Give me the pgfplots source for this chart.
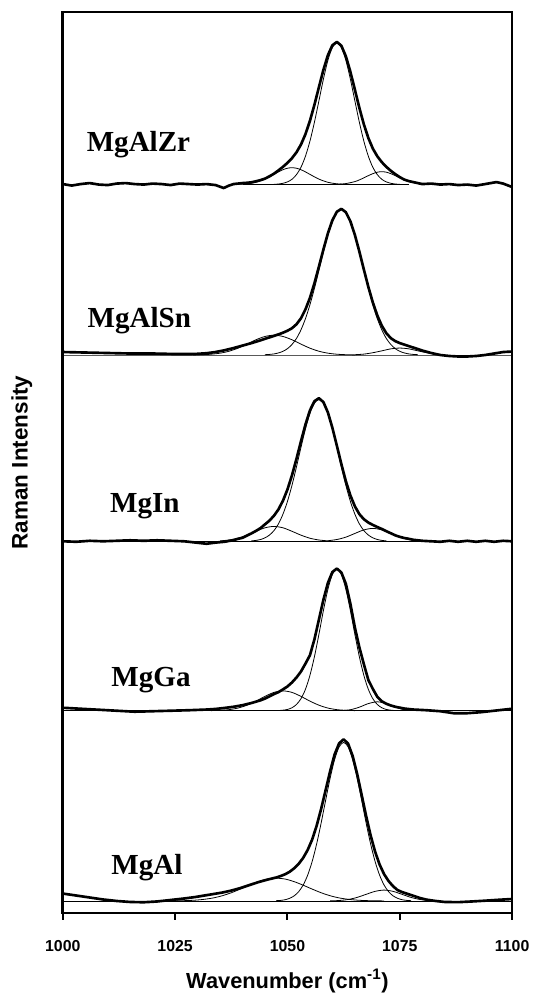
\documentclass[border=0pt]{standalone}
\usepackage{fontspec}
\setmainfont{Liberation Serif}
\setsansfont{Liberation Sans}
\usepackage{pgfplots}
\pgfplotsset{compat=1.18}

\pgfplotsset{
  spec/.style={black, line width=2pt, line join=round},
  comp/.style={black, line width=0.6pt, smooth},
}
\tikzset{lab/.style={anchor=base west, font=\rmfamily\bfseries\fontsize{22}{26}\selectfont}}

\begin{document}
\begin{tikzpicture}
\begin{axis}[
    name=ax,
    scale only axis,
    width=340pt, height=681.5pt,
    xmin=1000, xmax=1100, ymin=0, ymax=909,
    xtick={1000,1025,1050,1075,1100},
    xtick pos=left, xtick align=outside,
    major tick length=5.25pt,
    xtick style={black, line width=1.5pt},
    ytick=\empty,
    minor ytick={182,364,546,728},
    minor tick length=2.5pt,
    minor y tick style={draw=gray!70, line width=0.6pt},
    ytick pos=both, ytick align=inside,
    axis line style={line width=2pt},
    /pgf/number format/assume math mode=true,
    /pgf/number format/1000 sep={},
    xticklabel style={font=\sffamily\bfseries\fontsize{12}{14}\selectfont, yshift=-12pt},
    xlabel={Wavenumber (cm\textsuperscript{-1})},
    xlabel style={font=\sffamily\bfseries\fontsize{16.5}{19}\selectfont,
                  at={(axis description cs:0.5,0)}, anchor=center, yshift=-51.5pt},
    ylabel={Raman Intensity},
    ylabel style={font=\sffamily\bfseries\fontsize{17}{20}\selectfont,
                  at={(axis description cs:-0.091,0.5)}, anchor=center},
  ]

% ---------------- MgAlZr (baseline 735) ----------------
\addplot[spec] table[row sep=\\, y expr=\thisrow{y}+735] {
x y\\ 1000 0.5\\ 1002 -1\\ 1004 0.5\\ 1006 1.5\\ 1008 0\\ 1010 -0.5\\ 1012 1\\ 1014 1.5\\
1016 0.5\\ 1018 0\\ 1020 1\\ 1022 0.5\\ 1024 -0.5\\ 1026 1\\ 1028 0.5\\ 1030 0\\ 1032 0.5\\
1034 -0.5\\ 1035.8 -3.5\\ 1037 -1\\ 1038 0.5\\ 1039 1\\ 1040 1.5\\ 1041 1.8\\ 1042 2.3\\
1043 3.3\\ 1044 4.5\\ 1045 6.0\\ 1046 8.3\\ 1047 11.0\\ 1048 14.3\\ 1049 17.9\\ 1050 21.9\\
1051 26.6\\ 1052 32.5\\ 1053 40.3\\ 1054 50.8\\ 1055 64.3\\ 1056 80.5\\ 1057 98.3\\ 1058 115.8\\
1059 130.6\\ 1060 140.6\\ 1061 144\\ 1062 140.1\\ 1063 129.4\\ 1064 113.9\\ 1065 95.8\\
1066 77.4\\ 1067 60.8\\ 1068 47.0\\ 1069 36.3\\ 1070 28.5\\ 1071 22.6\\ 1072 17.9\\ 1073 13.9\\
1074 10.5\\ 1075 7.5\\ 1076 5.0\\ 1077 3.5\\ 1078 2.5\\ 1079 1.5\\ 1080 0.5\\ 1082 1\\ 1084 0\\
1086 0.5\\ 1088 -0.5\\ 1090 0\\ 1092 -1\\ 1094 0.5\\ 1096.5 2.5\\ 1098 1\\ 1100 -2.5\\
};
\addplot[comp] table[row sep=\\, y expr=\thisrow{y}+735] {
x y\\ 1047 0.2\\ 1048 0.55\\ 1049 1.3\\ 1050 2.7\\ 1051 5.3\\ 1052 10.0\\ 1053 17.4\\ 1054 28.6\\
1055 43.8\\ 1056 62.9\\ 1057 84.5\\ 1058 106.4\\ 1059 125.4\\ 1060 138.4\\ 1061 143\\ 1062 138.4\\
1063 125.4\\ 1064 106.4\\ 1065 84.5\\ 1066 62.9\\ 1067 43.8\\ 1068 28.6\\ 1069 17.4\\ 1070 10.0\\
1071 5.3\\ 1072 2.7\\ 1073 1.3\\ 1074 0.55\\ 1075 0.2\\
};
\addplot[comp] table[row sep=\\, y expr=\thisrow{y}+735] {
x y\\ 1039 0.2\\ 1041 0.75\\ 1043 2.3\\ 1045 5.5\\ 1047 10.3\\ 1048 12.8\\ 1049 15.0\\ 1050 16.5\\
1051 17\\ 1052 16.5\\ 1053 15.0\\ 1054 12.8\\ 1055 10.3\\ 1057 5.5\\ 1059 2.3\\ 1061 0.75\\ 1063 0.2\\
};
\addplot[comp] table[row sep=\\, y expr=\thisrow{y}+735] {
x y\\ 1061 0.2\\ 1063 1.0\\ 1065 3.0\\ 1066 4.7\\ 1067 6.8\\ 1068 9.0\\ 1069 11.0\\ 1070 12.5\\
1071 13\\ 1072 12.5\\ 1073 11.0\\ 1074 9.0\\ 1075 6.8\\ 1076 4.7\\ 1077 3.0\\ 1079 1.0\\ 1081 0.2\\
};
\addplot[comp] coordinates {(1040,735) (1077,735)};

% ---------------- MgAlSn (baseline 563) ----------------
\addplot[spec] table[row sep=\\, y expr=\thisrow{y}+563] {
x y\\ 1000 3\\ 1005 2.5\\ 1010 2\\ 1015 1.5\\ 1020 1.5\\ 1025 1\\ 1028 1\\ 1030 1.2\\ 1032 1.8\\
1034 3\\ 1036 4.8\\ 1038 7\\ 1040 9.5\\ 1042 12\\ 1044 14.8\\ 1046 17.8\\ 1048 20.8\\
1049 22.5\\ 1050 24.5\\ 1051 27\\ 1052 31\\ 1053 37\\ 1054 46\\
1055 57.6\\ 1056 72.4\\ 1057 89.2\\ 1058 106.5\\ 1059 122.8\\ 1060 136.0\\ 1061 144.6\\
1062 147.5\\ 1063 144.1\\ 1064 135.0\\ 1065 121.2\\ 1066 104.4\\ 1067 86.3\\ 1068 68.7\\
1069 53.0\\ 1070 39.8\\ 1071 29.5\\ 1072 22.0\\ 1073 17.0\\ 1074 14.0\\ 1075 12.0\\ 1076 10.5\\
1077 9\\ 1078 7.5\\ 1080 4.5\\ 1082 2\\ 1084 0\\ 1086 -1\\ 1088 -1.5\\ 1090 -1.5\\ 1092 -1\\
1094 0\\ 1096 1.5\\ 1098 3\\ 1100 3.5\\
};
\addplot[comp] table[row sep=\\, y expr=\thisrow{y}+563] {
x y\\ 1045 0.3\\ 1046 0.6\\ 1047 1.1\\ 1048 2.1\\ 1049 3.7\\ 1050 6.4\\ 1051 10.6\\ 1052 16.7\\
1053 25.3\\ 1054 36.6\\ 1055 50.7\\ 1056 67.2\\ 1057 85.4\\ 1058 103.8\\ 1059 120.9\\ 1060 134.8\\
1061 143.8\\ 1062 147\\ 1063 143.8\\ 1064 134.8\\ 1065 120.9\\ 1066 103.8\\ 1067 85.4\\ 1068 67.2\\
1069 50.7\\ 1070 36.6\\ 1071 25.3\\ 1072 16.7\\ 1073 10.6\\ 1074 6.4\\ 1075 3.7\\ 1076 2.1\\
1077 1.1\\ 1078 0.6\\ 1079 0.3\\
};
\addplot[comp] table[row sep=\\, y expr=\thisrow{y}+563] {
x y\\ 1029 0.1\\ 1031 0.3\\ 1033 0.8\\ 1035 1.85\\ 1037 3.8\\ 1039 6.9\\ 1041 11.0\\ 1043 15.4\\
1045 18.7\\ 1047 20\\ 1049 18.7\\ 1051 15.4\\ 1053 11.0\\ 1055 6.9\\ 1057 3.8\\ 1059 1.85\\
1061 0.8\\ 1063 0.3\\ 1065 0.1\\
};
\addplot[comp] table[row sep=\\, y expr=\thisrow{y}+563] {
x y\\ 1065 0.3\\ 1067 0.9\\ 1069 2.3\\ 1071 4.2\\ 1073 6.2\\ 1075 7\\ 1077 6.2\\ 1079 4.2\\
1081 2.3\\ 1083 0.9\\ 1085 0.3\\
};
\addplot[comp] coordinates {(1000,563) (1100,563)};

% ---------------- MgIn (baseline 375) ----------------
\addplot[spec] table[row sep=\\, y expr=\thisrow{y}+375] {
x y\\ 1000 0\\ 1003 -0.5\\ 1006 0.5\\ 1009 0\\ 1012 0.5\\ 1015 1\\ 1018 0.5\\ 1021 1\\ 1024 0.5\\
1027 0\\ 1030 -1.5\\ 1032 -2.5\\ 1034 -1.3\\ 1036 -0.5\\ 1038 1.2\\ 1039 2.5\\ 1040 3.5\\
1041 5.8\\ 1042 8.0\\ 1043 10.5\\ 1044 13.3\\ 1045 17.1\\ 1046 20.9\\ 1047 25.8\\ 1048 32.2\\
1049 41.0\\ 1050 52.3\\ 1051 66.5\\ 1052 83.1\\ 1053 100.8\\ 1054 117.8\\ 1055 132.1\\
1056 141.4\\ 1057 144.4\\ 1058 140.5\\ 1059 130.0\\ 1060 114.5\\ 1061 96.4\\ 1062 77.8\\
1063 60.6\\ 1064 46.3\\ 1065 35.3\\ 1066 27.4\\ 1067 22.3\\ 1068 18.9\\ 1069 16.5\\ 1070 14.4\\
1071 12.4\\ 1072 10.2\\ 1073 8.1\\ 1074 6.0\\ 1075 4.5\\ 1076 3.3\\ 1077 2.5\\ 1078 1.5\\
1080 0.5\\ 1082 0\\ 1084 -0.5\\ 1086 0.5\\ 1088 -0.5\\ 1090 0.5\\ 1092 -0.5\\ 1094 0.5\\
1096 -0.5\\ 1098 0.5\\ 1100 0\\
};
\addplot[comp] table[row sep=\\, y expr=\thisrow{y}+375] {
x y\\ 1042 0.4\\ 1043 0.9\\ 1044 1.8\\ 1045 3.5\\ 1046 6.3\\ 1047 10.8\\ 1048 17.6\\ 1049 27.4\\
1050 40.3\\ 1051 56.4\\ 1052 75.0\\ 1053 94.6\\ 1054 113.3\\ 1055 129.0\\ 1056 139.4\\ 1057 143\\
1058 139.4\\ 1059 129.0\\ 1060 113.3\\ 1061 94.6\\ 1062 75.0\\ 1063 56.4\\ 1064 40.3\\ 1065 27.4\\
1066 17.6\\ 1067 10.8\\ 1068 6.3\\ 1069 3.5\\ 1070 1.8\\ 1071 0.9\\ 1072 0.4\\
};
\addplot[comp] table[row sep=\\, y expr=\thisrow{y}+375] {
x y\\ 1035 0.43\\ 1037 1.3\\ 1039 3.1\\ 1041 6.2\\ 1043 10.1\\ 1045 13.6\\ 1047 15\\ 1049 13.6\\
1051 10.1\\ 1053 6.2\\ 1055 3.1\\ 1057 1.3\\ 1059 0.43\\
};
\addplot[comp] table[row sep=\\, y expr=\thisrow{y}+375] {
x y\\ 1059 0.57\\ 1061 1.8\\ 1063 4.2\\ 1065 7.9\\ 1067 11.5\\ 1069 13\\ 1071 11.5\\ 1073 7.9\\
1075 4.2\\ 1077 1.8\\ 1079 0.57\\
};
\addplot[comp] coordinates {(1000,375) (1100,375)};

% ---------------- MgGa (baseline 204) ----------------
\addplot[spec] table[row sep=\\, y expr=\thisrow{y}+204] {
x y\\ 1000 3\\ 1004 2\\ 1008 1\\ 1012 0\\ 1016 -1\\ 1020 -0.5\\ 1024 0\\ 1028 0.5\\ 1032 1.2\\
1034 1.8\\ 1036 2.8\\ 1038 4\\ 1040 5.6\\ 1042 7.8\\ 1044 10.5\\ 1045 12.3\\ 1046 14.5\\
1047 16.8\\ 1048 18.8\\ 1049 21.5\\ 1050 24.5\\ 1051 28.5\\ 1052 33.5\\ 1053 39.5\\ 1054 47.5\\
1055 56\\ 1056 72\\ 1057 92\\ 1058 112\\ 1059 129\\ 1060 140\\ 1061 143.5\\
1062 139.5\\ 1063 128\\ 1064 108\\ 1065 84\\ 1066 64\\ 1067 47\\ 1068 31\\
1069 22\\ 1070 14\\ 1071 9.5\\ 1072 7\\ 1073 5.3\\ 1074 4\\ 1076 2.2\\ 1078 1.2\\
1081 0.5\\ 1084 -0.5\\ 1087 -2.5\\ 1090 -2.5\\ 1093 -1.5\\ 1096 0\\ 1100 2\\
};
\addplot[comp] table[row sep=\\, y expr=\thisrow{y}+204] {
x y\\ 1048 0.2\\ 1049 0.55\\ 1050 1.3\\ 1051 3.0\\ 1052 6.3\\ 1053 12.1\\ 1054 21.6\\
1055 35.7\\ 1056 54.5\\ 1057 77.1\\ 1058 101.1\\ 1059 122.5\\ 1060 137.6\\ 1061 143\\ 1062 137.6\\
1063 122.5\\ 1064 101.1\\ 1065 77.1\\ 1066 54.5\\ 1067 35.7\\ 1068 21.6\\ 1069 12.1\\ 1070 6.3\\
1071 3.0\\ 1072 1.3\\ 1073 0.55\\ 1074 0.2\\
};
\addplot[comp] table[row sep=\\, y expr=\thisrow{y}+204] {
x y\\ 1033 0.1\\ 1035 0.4\\ 1037 1.1\\ 1039 2.7\\ 1041 5.6\\ 1043 9.7\\ 1045 14.5\\ 1047 18.5\\
1049 20\\ 1051 18.5\\ 1053 14.5\\ 1055 9.7\\ 1057 5.6\\ 1059 2.7\\ 1061 1.1\\ 1063 0.4\\ 1065 0.1\\
};
\addplot[comp] table[row sep=\\, y expr=\thisrow{y}+204] {
x y\\ 1062 0.15\\ 1064 1.0\\ 1066 3.6\\ 1068 7.2\\ 1070 9\\ 1072 7.2\\ 1074 3.6\\
1076 1.0\\ 1078 0.15\\
};
\addplot[comp] coordinates {(1000,204) (1100,204)};

% ---------------- MgAl (baseline 12) ----------------
\addplot[spec] table[row sep=\\, y expr=\thisrow{y}+12] {
x y\\ 1000 7.5\\ 1003 5.5\\ 1006 3.5\\ 1009 1.5\\ 1012 0\\ 1015 -1\\ 1018 -1.3\\ 1021 -0.5\\
1024 1\\ 1027 2.5\\ 1029.5 4\\ 1031.5 5.5\\ 1033.5 7\\ 1035.5 8.5\\ 1037.5 10.5\\ 1039.5 13\\
1041.5 16\\ 1043.5 19\\ 1045.5 21.5\\ 1047.5 23.7\\ 1048.5 25.2\\ 1049.5 27\\ 1050.5 29.5\\
1051.5 33\\ 1052.5 37.5\\ 1053.5 43.5\\ 1054.5 51.5\\ 1055.5 62\\ 1056.5 76\\ 1057.5 93\\
1058.5 112\\ 1059.5 131\\ 1060.5 148\\ 1061.5 159.1\\
1062.5 163.2\\ 1063.5 158.7\\ 1064.5 146.4\\ 1065.5 128.4\\ 1066.5 107.3\\ 1067.5 85.9\\
1068.5 66.3\\ 1069.5 49.8\\ 1070.5 36.8\\ 1071.5 27.1\\ 1072.5 20.1\\ 1073.5 14.9\\ 1074.5 11.0\\
1075.5 9.0\\ 1076.5 7.5\\ 1077.5 6\\ 1078.5 4.5\\ 1079.5 3\\ 1081 1.3\\ 1083 0\\ 1085 -1\\
1088 -1.2\\ 1091 -0.5\\ 1094 0.3\\ 1097 1.2\\ 1100 2\\
};
\addplot[comp] table[row sep=\\, y expr=\thisrow{y}+12] {
x y\\ 1047.5 0.3\\ 1048.5 0.6\\ 1049.5 1.3\\ 1050.5 2.7\\ 1051.5 5.2\\ 1052.5 9.4\\ 1053.5 16.1\\
1054.5 26.1\\ 1055.5 39.9\\ 1056.5 57.7\\ 1057.5 78.8\\ 1058.5 101.7\\ 1059.5 124.0\\ 1060.5 142.8\\
1061.5 155.5\\ 1062.5 160\\ 1063.5 155.5\\ 1064.5 142.8\\ 1065.5 124.0\\ 1066.5 101.7\\
1067.5 78.8\\ 1068.5 57.7\\ 1069.5 39.9\\ 1070.5 26.1\\ 1071.5 16.1\\ 1072.5 9.4\\ 1073.5 5.2\\
1074.5 2.7\\ 1075.5 1.3\\ 1076.5 0.6\\ 1077.5 0.3\\
};
\addplot[comp] table[row sep=\\, y expr=\thisrow{y}+12] {
x y\\ 1023.5 0.06\\ 1025.5 0.17\\ 1027.5 0.39\\ 1029.5 0.84\\ 1031.5 1.7\\ 1033.5 3.1\\ 1035.5 5.3\\
1037.5 8.3\\ 1039.5 12.0\\ 1041.5 15.9\\ 1043.5 19.5\\ 1045.5 22.1\\ 1047.5 23\\ 1049.5 22.1\\
1051.5 19.5\\ 1053.5 15.9\\ 1055.5 12.0\\ 1057.5 8.3\\ 1059.5 5.3\\ 1061.5 3.1\\ 1063.5 1.7\\
1065.5 0.84\\ 1067.5 0.39\\ 1069.5 0.17\\ 1071.5 0.06\\
};
\addplot[comp] table[row sep=\\, y expr=\thisrow{y}+12] {
x y\\ 1059.5 0.12\\ 1061.5 0.48\\ 1063.5 1.5\\ 1065.5 3.6\\ 1067.5 6.7\\ 1069.5 9.7\\ 1071.5 11\\
1073.5 9.7\\ 1075.5 6.7\\ 1077.5 3.6\\ 1079.5 1.5\\ 1081.5 0.48\\ 1083.5 0.12\\
};
\addplot[comp] coordinates {(1000,12) (1100,12)};

% ---------------- labels ----------------
\node[lab] at (axis cs:1004.3,768) {MgAlZr};
\node[lab] at (axis cs:1004.5,591) {MgAlSn};
\node[lab] at (axis cs:1009.5,404) {MgIn};
\node[lab] at (axis cs:1009.8,228) {MgGa};
\node[lab] at (axis cs:1009.8,39) {MgAl};
\end{axis}
\path[use as bounding box] ([shift={(-47.5pt,-57pt)}]ax.south west)
  rectangle ([shift={(16.7pt,9.2pt)}]ax.north east);
\end{tikzpicture}
\end{document}
